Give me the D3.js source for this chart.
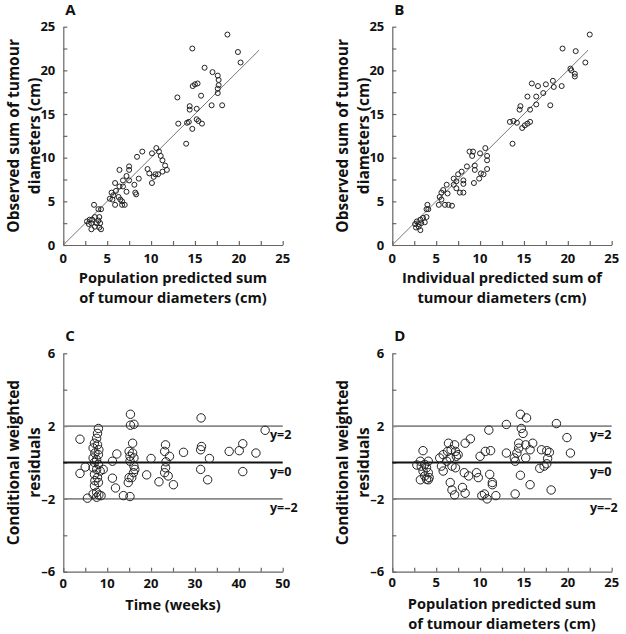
<!DOCTYPE html>
<html><head><meta charset="utf-8">
<script src="https://cdn.jsdelivr.net/npm/d3@7/dist/d3.min.js"></script>
<style>body{margin:0;background:#fff}svg{display:block}text{font-family:"Open Sans",sans-serif;font-weight:700;fill:#111}</style>
</head><body><svg id="c" width="626" height="634"></svg>
<script>
// Panel A: population predicted vs observed
const aPred=[18.7,14.7,19.9,20.2,16.1,17.0,17.6,17.7,17.7,17.6,17.6,14.75,15.0,15.3,15.7,18.1,16.9,13.0,14.4,14.4,15.2,13.1,14.1,14.3,15.2,15.4,15.8,14.7,14.0,
10.6,10.9,11.1,11.3,11.6,11.3,11.8,10.1,9.0,8.4,10.5,10.8,9.6,9.8,10.1,10.3,8.6,7.5,7.5,6.4,7.2,6.8,7.5,8.1,5.9,6.4,6.8,7.2,8.2,8.3,5.5,6.0,5.7,5.3,6.3,5.6,6.5,5.9,6.7,7.0,6.7,
3.5,4.0,4.3,2.7,3.0,3.3,3.6,4.1,3.2,3.8,4.2,3.6,4.1,3.2,4.3,2.9,4.0];
const aObs=[24.1,22.5,22.1,20.9,20.3,19.8,19.4,18.9,18.3,17.9,17.4,18.2,18.4,18.5,17.1,16.0,16.0,16.9,15.9,15.5,15.6,13.9,14.0,14.1,14.4,14.2,13.9,13.3,11.6,
11.1,10.7,10.2,9.7,9.1,8.4,8.6,10.5,10.7,10.1,8.1,8.1,8.7,8.2,7.1,7.8,7.6,9.0,8.6,8.6,7.9,7.4,7.4,6.9,7.1,6.7,6.7,6.1,6.0,5.8,6.0,6.2,5.7,5.3,5.5,5.2,5.2,4.6,4.6,4.6,5.0,
4.6,4.1,4.1,2.7,2.9,2.9,3.2,3.2,2.5,2.5,2.5,2.1,2.0,1.8,1.8,2.4,2.8];
// Panel B: individual predicted vs observed
const bPred=[22.5,19.4,20.9,22.0,20.3,20.4,20.8,20.8,15.9,16.6,17.5,18.3,18.4,19.3,17.2,16.4,15.4,16.4,18.0,14.6,14.5,15.7,13.4,13.8,14.2,14.8,15.1,15.4,15.7,13.7,
10.6,10.0,8.8,9.2,9.1,10.8,10.8,10.8,9.4,9.4,10.1,10.4,9.9,8.5,7.9,7.5,7.0,7.3,8.1,8.1,9.3,7.0,7.3,7.7,8.1,6.2,5.8,5.6,6.3,5.4,5.6,5.3,6.0,6.4,6.8,
4.0,4.1,3.9,3.9,3.5,3.2,2.8,3.0,3.3,3.7,3.0,3.2,2.6,2.7];
const bObs=[24.1,22.5,22.2,20.9,20.2,20.0,19.6,19.3,18.5,18.2,18.4,18.8,18.1,18.2,17.4,17.0,17.0,16.1,16.0,15.9,15.5,15.5,14.1,14.2,14.0,13.4,13.7,13.9,14.1,11.6,
11.1,10.5,10.7,10.7,10.2,10.2,9.7,8.7,9.1,8.6,8.2,8.1,7.6,9.0,8.4,8.1,7.6,7.3,7.4,7.0,7.1,6.9,6.5,6.0,6.0,6.9,6.3,6.0,5.9,5.5,5.2,4.6,4.6,4.6,4.5,
4.6,4.1,4.1,3.2,3.1,2.9,2.7,2.4,2.5,2.6,2.1,1.7,2.4,2.0];
// Panel C: time vs CWRES
const cTime=[3.8,3.8,5.0,5.5,8.0,7.8,7.6,7.1,7.8,6.8,8.1,7.2,8.0,6.8,7.6,7.1,8.0,6.8,7.6,8.4,7.1,7.8,7.2,8.0,7.1,7.6,6.8,8.1,7.6,8.6,9.1,
11.2,12.2,11.2,11.9,13.7,15.2,15.3,15.3,16.1,15.8,15.0,15.8,15.2,16.1,15.2,16.1,16.0,15.0,15.6,14.8,16.3,
19.0,20.0,21.8,23.3,23.1,24.2,23.4,23.3,23.1,23.9,25.1,27.4,31.4,31.5,31.3,33.3,31.3,32.9,37.8,40.1,40.9,40.9,43.9,46.0];
const cRes=[1.28,-0.6,-0.25,-1.96,1.87,1.6,1.33,1.06,0.97,0.8,0.7,0.52,0.43,0.25,0.16,0,-0.1,-0.29,-0.38,-0.47,-0.65,-0.83,-1.0,-1.1,-1.28,-1.64,-1.73,-1.78,-1.91,-1.82,-0.38,
0.07,0.47,-0.86,-1.4,-1.82,-1.87,2.65,2.05,2.1,1.06,0.61,0.52,0.34,0.25,0.07,-0.2,-0.56,-0.83,-0.83,-1.1,-0.38,
-0.68,0.22,-1.06,0.97,0.61,0.34,0.04,-0.29,-0.56,-0.74,-1.22,0.56,2.45,0.88,0.7,0.22,-0.38,-0.95,0.61,0.65,1.03,-0.5,0.52,1.77];
// Panel D: population predicted vs CWRES
const dPred=[3.5,2.8,3.2,3.2,3.3,3.7,4.1,3.9,3.5,4.1,3.7,4.2,3.9,4.1,
5.4,5.8,6.3,6.4,6.7,7.1,7.2,7.5,7.3,6.6,6.2,6.8,7.2,5.8,5.6,6.6,6.8,7.1,
8.2,8.7,9.6,9.8,8.3,8.9,8.0,8.3,10.0,10.6,11.2,11.0,11.1,11.4,11.4,10.2,10.5,10.8,11.8,13.0,13.0,14.0,
14.6,15.3,14.7,14.9,14.4,15.2,16.0,14.4,15.7,14.2,13.9,14.0,15.2,14.6,15.7,
17.0,17.6,17.9,17.7,17.6,17.3,16.8,18.1,18.7,19.9,20.3];
const dRes=[0.65,-0.14,0.07,-0.95,-0.2,-0.1,0.07,-0.29,-0.47,-0.56,-0.74,-0.83,-0.92,-0.95,
0.25,0.43,0.61,1.06,0.7,0.97,0.61,0.43,0.34,0.25,0.07,-0.2,-0.29,-0.47,-0.2,-1.1,-1.51,-1.78,
-0.56,-0.74,-0.56,-0.83,1.06,1.3,-1.37,-1.69,0.34,0.61,0.65,1.78,-0.65,-1.1,-1.22,-1.82,-1.73,-2.0,-1.82,2.09,0.52,-1.73,
2.65,2.45,1.87,1.6,1.06,0.97,1.06,0.79,0.7,0.52,0.25,0.07,0.25,-0.7,-1.22,
0.7,0.65,0.56,0.22,-0.07,-0.2,-0.32,-1.51,2.14,1.37,0.52];
// Tick labels
const sizeTicks=[0,5,10,15,20,25];
const sizeMinor=[2.5,7.5,12.5,17.5,22.5];
const timeTicks=[0,10,20,30,40,50];
const timeMinor=[5,15,25,35,45];
const resTicks=[6,2,-2,-6];
const resMinor=[4,0,-4];
const refLines=[2,0,-2];
const refLabels=["y=2","y=0","y=–2"];

const svg=d3.select("#c");
const tickCol="#666";

function panel(o){
  const g=svg.append("g");
  const x=d3.scaleLinear().domain(o.xd).range([o.x0,o.x1]);
  const y=d3.scaleLinear().domain(o.yd).range([o.y0,o.y1]);
  const axisX=d3.axisBottom(x).tickValues(o.xt.concat(o.xm).sort((a,b)=>a-b)).tickSize(-4).tickFormat("").tickSizeOuter(0);
  const gx=g.append("g").attr("transform",`translate(0,${o.y0})`).call(axisX);
  const axisY=d3.axisLeft(y).tickValues(o.yt.concat(o.ym)).tickSize(-4).tickFormat("").tickSizeOuter(0);
  const gy=g.append("g").attr("transform",`translate(${o.x0},0)`).call(axisY);
  [gx,gy].forEach(a=>{a.selectAll("path,line").attr("stroke",tickCol).attr("stroke-width",1.2);});
  g.selectAll(null).data(o.xt).enter().append("text").attr("x",d=>x(d)).attr("y",o.y0+o.xtOff).attr("text-anchor","middle").attr("font-size",13).text(d=>d);
  g.selectAll(null).data(o.yt).enter().append("text").attr("x",o.x0-8).attr("y",d=>y(d)).attr("dy","0.36em").attr("text-anchor","end").attr("font-size",13).text(d=>String(d).replace("-","–"));
  if(o.ref){
    refLines.forEach((v,i)=>{
      g.append("line").attr("x1",x(o.xd[0])).attr("x2",x(o.xd[1])).attr("y1",y(v)).attr("y2",y(v))
        .attr("stroke",v===0?"#111":"#888").attr("stroke-width",v===0?2:1.6);
      g.append("text").attr("x",o.labX).attr("y",y(v)+13).attr("font-size",12.5).text(refLabels[i]);
    });
  }
  if(o.identity){
    g.append("line").attr("x1",x(0)).attr("y1",y(0)).attr("x2",x(o.identity)).attr("y2",y(o.identity)).attr("stroke","#777").attr("stroke-width",1);
  }
  g.selectAll(null).data(o.px.map((d,i)=>[d,o.py[i]])).enter().append("circle")
    .attr("cx",d=>x(d[0])).attr("cy",d=>y(d[1])).attr("r",o.r).attr("fill","none").attr("stroke","#222").attr("stroke-width",o.sw);
  g.append("text").attr("x",o.x0+2).attr("y",o.titleY).attr("font-size",15).text(o.title);
  o.xl.forEach((t,i)=>g.append("text").attr("x",(o.x0+o.x1)/2).attr("y",o.xlY+i*20).attr("text-anchor","middle").attr("font-size",14.6).text(t));
  const cy=(o.y0+o.y1)/2;
  o.yl.forEach((t,i)=>g.append("text").attr("transform",`translate(${o.ylX+i*21},${cy}) rotate(-90)`).attr("text-anchor","middle").attr("font-size",15.5).text(t));
}

const yA=[245,26.7], yC=[571.7,353.3];
panel({x0:63.3,x1:282.7,y0:yA[0],y1:yA[1],xd:[0,25],yd:[0,25],xt:sizeTicks,xm:sizeMinor,yt:sizeTicks,ym:sizeMinor,xtOff:18,
  px:aPred,py:aObs,r:2.5,sw:1,identity:22.3,title:"A",titleY:15,
  xl:["Population predicted sum","of tumour diameters (cm)"],xlY:283,yl:["Observed sum of tumour","diameters (cm)"],ylX:19});
panel({x0:392.3,x1:611.7,y0:yA[0],y1:yA[1],xd:[0,25],yd:[0,25],xt:sizeTicks,xm:sizeMinor,yt:sizeTicks,ym:sizeMinor,xtOff:18,
  px:bPred,py:bObs,r:2.5,sw:1,identity:22.3,title:"B",titleY:15,
  xl:["Individual predicted sum of","tumour diameters (cm)"],xlY:283,yl:["Observed sum of tumour","diameters (cm)"],ylX:348});
panel({x0:63.3,x1:282.7,y0:yC[0],y1:yC[1],xd:[0,50],yd:[-6,6],xt:timeTicks,xm:timeMinor,yt:resTicks,ym:resMinor,xtOff:16.5,
  px:cTime,py:cRes,r:4.2,sw:1,ref:true,labX:270,title:"C",titleY:341,
  xl:["Time (weeks)"],xlY:610,yl:["Conditional weighted","residuals"],ylX:19});
panel({x0:392.3,x1:611.7,y0:yC[0],y1:yC[1],xd:[0,25],yd:[-6,6],xt:sizeTicks,xm:sizeMinor,yt:resTicks,ym:resMinor,xtOff:15.5,
  px:dPred,py:dRes,r:4.2,sw:1,ref:true,labX:590,title:"D",titleY:341,
  xl:["Population predicted sum","of tumour diameters (cm)"],xlY:609,yl:["Conditional weighted","residuals"],ylX:348});
</script></body></html>
